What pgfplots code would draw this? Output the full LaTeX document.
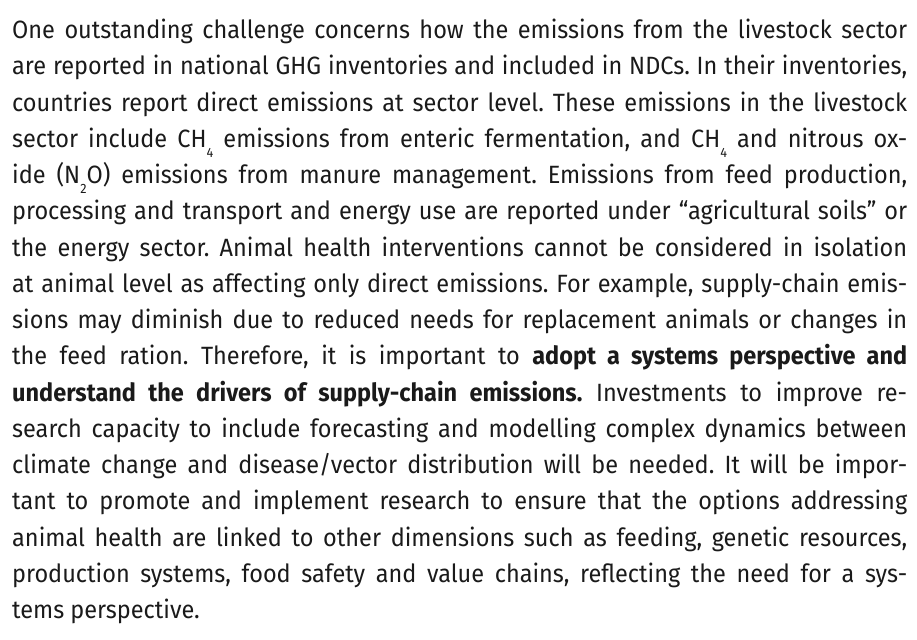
\documentclass[border=0pt]{standalone}
\usepackage{fontspec}
\setmainfont[FakeStretch=0.94]{Fira Sans}
\usepackage{pgfplots}
\pgfplotsset{compat=1.18}
\definecolor{ink}{HTML}{1A1A1A}
\newcommand{\sub}[1]{\raisebox{-10pt}{\fontsize{13.5}{13.5}\selectfont #1}}
\newcommand{\textline}[1]{\makebox[895pt][s]{#1}}
\frenchspacing

\begin{document}
\begin{tikzpicture}
\begin{axis}[
    width=917pt, height=639pt, scale only axis,
    xmin=0, xmax=917, ymin=0, ymax=639,
    axis lines=none, clip=false,
  ]
  \path (rel axis cs:0,0) rectangle (rel axis cs:1,1);
  \node[anchor=north west, inner sep=0pt, align=left,
        text=ink, font=\fontsize{25}{36.25}\selectfont\frenchspacing]
    at (axis cs:12,620) {%
\textline{One outstanding challenge concerns how the emissions from the livestock sector}\\
\textline{are reported in national GHG inventories and included in NDCs. In their inventories,}\\
\textline{countries report direct emissions at sector level. These emissions in the livestock}\\
\textline{sector include CH\sub{4} emissions from enteric fermentation, and CH\sub{4} and nitrous ox-}\\
\textline{ide (N\sub{2}O) emissions from manure management. Emissions from feed production,}\\
\textline{processing and transport and energy use are reported under “agricultural soils” or}\\
\textline{the energy sector. Animal health interventions cannot be considered in isolation}\\
\textline{at animal level as affecting only direct emissions. For example, supply-chain emis-}\\
\textline{sions may diminish due to reduced needs for replacement animals or changes in}\\
\textline{the feed ration. Therefore, it is important to \textbf{adopt a systems perspective and}}\\
\textline{\textbf{understand the drivers of supply-chain emissions.} Investments to improve re-}\\
\textline{search capacity to include forecasting and modelling complex dynamics between}\\
\textline{climate change and disease/vector distribution will be needed. It will be impor-}\\
\textline{tant to promote and implement research to ensure that the options addressing}\\
\textline{animal health are linked to other dimensions such as feeding, genetic resources,}\\
\textline{production systems, food safety and value chains, reflecting the need for a sys-}\\
tems perspective.};
\end{axis}
\end{tikzpicture}
\end{document}
